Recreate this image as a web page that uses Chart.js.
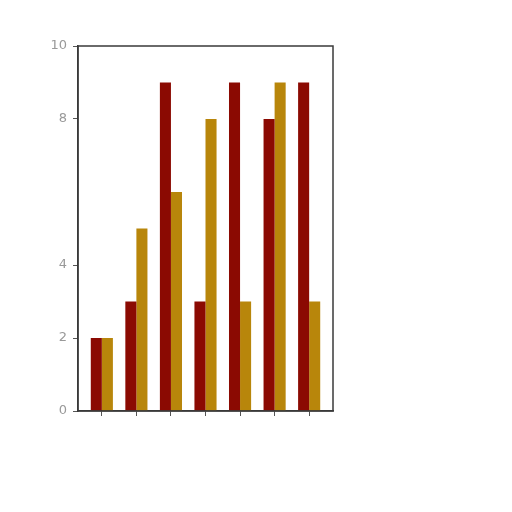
<!DOCTYPE html>
<html>
<head>
<meta charset="utf-8">
<script src="https://cdn.jsdelivr.net/npm/chart.js@4/dist/chart.umd.min.js"></script>
<style>
  html, body { margin: 0; padding: 0; background: #fff; }
  #chart { display: block; }
</style>
</head>
<body>
<canvas id="chart" width="512" height="512"></canvas>
<script>
// Seven groups, no category labels are printed under the ticks.
const categories = [0, 1, 2, 3, 4, 5, 6];
const redValues = [2, 3, 9, 3, 9, 8, 9];
const goldValues = [2, 5, 6, 8, 3, 9, 3];
const yTicks = [0, 2, 4, 8, 10];

const RED = "#8b0a02";
const GOLD = "#b8860b";

// Chart.js only draws the left/bottom borders, so box the plot area by hand.
const frame = {
  id: "frame",
  afterDraw: function (chart) {
    const a = chart.chartArea;
    const ctx = chart.ctx;
    ctx.save();
    ctx.strokeStyle = "#3a3a3a";
    ctx.lineWidth = 1.5;
    ctx.strokeRect(a.left, a.top, a.right - a.left, a.bottom - a.top);
    ctx.restore();
  },
};

function toPoints(values) {
  return values.map(function (v, i) { return { x: categories[i], y: v }; });
}

new Chart(document.getElementById("chart"), {
  type: "bar",
  data: {
    datasets: [
      { data: toPoints(redValues), backgroundColor: RED, barPercentage: 1, categoryPercentage: 0.64 },
      { data: toPoints(goldValues), backgroundColor: GOLD, barPercentage: 1, categoryPercentage: 0.64 },
    ],
  },
  options: {
    responsive: false,
    animation: false,
    layout: { padding: { left: 48, right: 179, top: 46, bottom: 81 } },
    plugins: { legend: { display: false }, tooltip: { enabled: false } },
    scales: {
      x: {
        type: "linear",
        min: -0.69,
        max: 6.69,
        offset: false,
        afterBuildTicks: function (scale) {
          scale.ticks = categories.map(function (c) { return { value: c }; });
        },
        afterFit: function (scale) { scale.height = 20; },
        ticks: { display: false, includeBounds: false },
        grid: { offset: false, drawOnChartArea: false, drawTicks: true, tickLength: 5, tickColor: "#555" },
        border: { display: true, color: "#3a3a3a", width: 1.5 },
      },
      y: {
        min: 0,
        max: 10,
        afterBuildTicks: function (scale) {
          scale.ticks = yTicks.map(function (v) { return { value: v }; });
        },
        afterFit: function (scale) { scale.width = 30; },
        ticks: {
          color: "#999999",
          padding: 6,
          font: { family: "DejaVu Sans", size: 13 },
        },
        grid: { drawOnChartArea: false, drawTicks: true, tickLength: 5, tickColor: "#555" },
        border: { display: true, color: "#3a3a3a", width: 1.5 },
      },
    },
  },
  plugins: [frame],
});
</script>
</body>
</html>
